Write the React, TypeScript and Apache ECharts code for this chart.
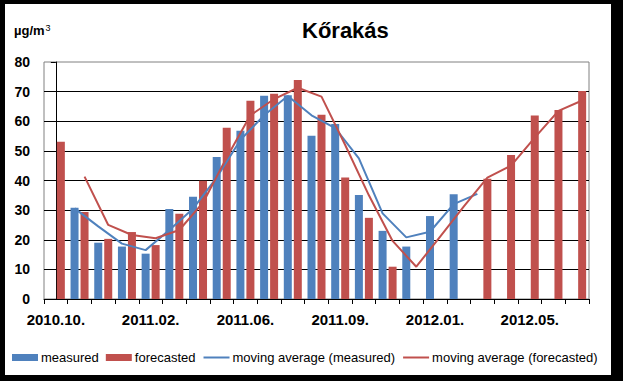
import React, { useEffect, useRef } from "react";
import * as echarts from "echarts";

const categories = [
  "2010.10.", "2010.11.", "2010.12.", "2011.01.", "2011.02.", "2011.03.", "2011.04.", "2011.05.",
  "2011.06.", "2011.07.", "2011.08.", "2011.08.", "2011.09.", "2011.10.", "2011.11.", "2011.12.",
  "2012.01.", "2012.02.", "2012.03.", "2012.04.", "2012.05.", "2012.06.", "2012.07.",
];

const measured = [null, 30.8, 19.0, 17.7, 15.3, 30.4, 34.5, 47.9, 56.8, 68.6, 68.8, 55.1, 59.1, 35.1, 23.0, 17.7, 28.0, 35.4, null, null, null, null, null];
const forecasted = [53.1, 29.4, 20.3, 22.6, 18.2, 28.8, 39.9, 57.8, 66.9, 69.3, 73.9, 62.2, 41.0, 27.4, 10.9, null, null, null, 40.6, 48.6, 61.9, 63.8, 70.2];
const maMeasured = [null, 30.6, 24.5, 18.7, 16.5, 23.3, 30.5, 41.0, 53.7, 62.0, 68.5, 62.0, 57.7, 47.5, 28.9, 20.8, 22.7, 32.0, 35.5, null, null, null, null];
const maForecasted = [null, 41.3, 25.0, 21.6, 20.5, 23.3, 32.5, 47.8, 62.0, 67.5, 71.3, 68.3, 52.0, 35.0, 19.6, 10.9, 21.0, 31.2, 41.0, 45.0, 54.5, 63.5, 67.0];

const yTicks = { min: 0, max: 80, interval: 10 };

const BLUE = "#4F81BD";
const RED = "#C0504D";
const FONT = "'Liberation Sans', Arial, sans-serif";

const W = 623;
const H = 381;
const GRID = { left: 44, top: 62, right: 34, bottom: 82 };
const BAR_W = 8;
const BAR_GAP_PX = 2;

export default function App() {
  const ref = useRef<HTMLDivElement>(null);
  useEffect(() => {
    if (!ref.current) return;
    const chart = echarts.init(ref.current, null, { renderer: "svg" });
    const plotW = W - GRID.left - GRID.right;
    const catW = plotW / categories.length;
    const off = (BAR_W / 2 + BAR_GAP_PX / 2) / catW;
    const toPts = (arr: (number | null)[], shift: number) =>
      arr.map((v, i) => (v == null ? null : [i + shift, v])).filter((p) => p !== null);

    chart.setOption({
      animation: false,
      backgroundColor: "#000",
      textStyle: { fontFamily: FONT },
      grid: { ...GRID, show: true, borderColor: "#808080", borderWidth: 1, backgroundColor: "transparent" },
      graphic: [
        { type: "rect", z: -10, shape: { x: 5, y: 4, width: 606, height: 371 }, style: { fill: "#fff" } },
        {
          type: "text", left: 346 - 44, top: 19,
          style: { text: "Kőrakás", font: `bold 22px ${FONT}`, fill: "#000" },
        },
        {
          type: "text", x: 14, y: 23,
          style: {
            text: "{a|µg/m}{b|3}",
            rich: {
              a: { font: `bold 13px ${FONT}`, fill: "#000", verticalAlign: "bottom" },
              b: { font: `9px ${FONT}`, fill: "#000", verticalAlign: "top", padding: [0, 0, 5, 1] },
            },
          },
        },
      ],
      legend: {
        left: 12,
        top: 351,
        padding: 0,
        itemWidth: 26,
        itemHeight: 7,
        itemGap: 7,
        textStyle: { fontSize: 13, color: "#000", fontFamily: FONT, padding: [0, 0, 0, -2] },
        data: [
          { name: "measured", icon: "rect" },
          { name: "forecasted", icon: "rect" },
          { name: "moving average (measured)", itemStyle: { opacity: 0 } },
          { name: "moving average (forecasted)", itemStyle: { opacity: 0 } },
        ],
      },
      xAxis: [
        {
          type: "category",
          data: categories,
          boundaryGap: true,
          axisLine: { lineStyle: { color: "#000", width: 1 } },
          axisTick: { show: true, interval: 0, length: 5, lineStyle: { color: "#000" } },
          axisLabel: { interval: 3, color: "#000", fontSize: 15, fontWeight: "bold", margin: 13, fontFamily: FONT },
          splitLine: { show: false },
        },
        { type: "value", min: -0.5, max: categories.length - 0.5, show: false },
      ],
      yAxis: {
        type: "value",
        min: yTicks.min,
        max: yTicks.max,
        interval: yTicks.interval,
        axisLine: { show: true, lineStyle: { color: "#000", width: 1 } },
        axisTick: { show: true, length: 5, lineStyle: { color: "#000" } },
        axisLabel: { color: "#000", fontSize: 14, fontWeight: "bold", margin: 14, fontFamily: FONT },
        splitLine: { show: true, showMaxLine: false, lineStyle: { color: "#000", width: 1 } },
      },
      series: [
        {
          name: "measured", type: "bar", data: measured, barWidth: BAR_W,
          barGap: `${(BAR_GAP_PX / BAR_W) * 100}%`, itemStyle: { color: BLUE }, z: 2,
        },
        {
          name: "forecasted", type: "bar", data: forecasted, barWidth: BAR_W,
          itemStyle: { color: RED }, z: 2,
        },
        {
          name: "moving average (measured)", type: "line", xAxisIndex: 1,
          data: toPts(maMeasured, -off), symbol: "none", lineStyle: { color: BLUE, width: 2 },
          itemStyle: { color: BLUE }, z: 3,
        },
        {
          name: "moving average (forecasted)", type: "line", xAxisIndex: 1,
          data: toPts(maForecasted, off), symbol: "none", lineStyle: { color: RED, width: 2 },
          itemStyle: { color: RED }, z: 3,
        },
      ],
    });
    return () => chart.dispose();
  }, []);
  return <div ref={ref} style={{ position: "fixed", left: 0, top: 0, width: W, height: H }} />;
}
